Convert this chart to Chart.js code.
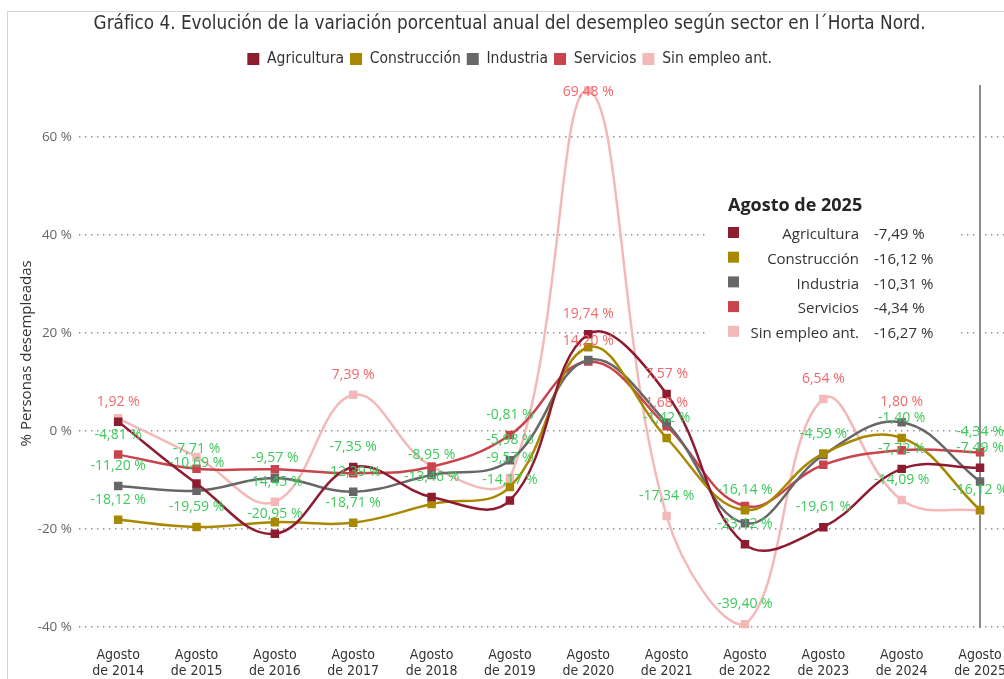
<!DOCTYPE html>
<html lang="es">
<head>
<meta charset="utf-8">
<title>Gráfico 4 - Desempleo l'Horta Nord</title>
<script src="https://cdn.jsdelivr.net/npm/chart.js@4.4.1/dist/chart.umd.min.js"></script>
<style>
    html, body {
        margin: 0;
        padding: 0;
        width: 1004px;
        height: 679px;
        overflow: hidden;
        background: #fff;
    }
    .frame {
        position: absolute;
        left: 7px;
        top: 11px;
        width: 1100px;
        height: 700px;
        border-left: 1px solid #d4d4d4;
        border-top: 1px solid #d4d4d4;
    }
    #chart {
        position: absolute;
        left: 0;
        top: 0;
    }
</style>
</head>
<body>
<div class="frame"></div>
<canvas id="chart" width="1030" height="679"></canvas>

<script>
/* ==========================================
   DATOS
   ========================================== */

const categories = [
    'Agosto de 2014', 'Agosto de 2015', 'Agosto de 2016', 'Agosto de 2017',
    'Agosto de 2018', 'Agosto de 2019', 'Agosto de 2020', 'Agosto de 2021',
    'Agosto de 2022', 'Agosto de 2023', 'Agosto de 2024', 'Agosto de 2025'
];

const agricultura  = [1.92, -10.69, -20.95, -7.35, -13.46, -14.17, 19.74, 7.57, -23.12, -19.61, -7.72, -7.49];
const construccion = [-18.12, -19.59, -18.60, -18.71, -14.90, -11.40, 17.10, -1.42, -16.14, -4.59, -1.40, -16.12];
const industria    = [-11.20, -12.20, -9.57, -12.39, -8.95, -5.98, 14.50, 1.68, -18.80, -4.90, 1.80, -10.31];
const servicios    = [-4.81, -7.71, -7.80, -8.60, -7.30, -0.81, 14.20, 1.00, -15.30, -6.90, -3.90, -4.34];
const sinEmpleo    = [2.60, -5.30, -14.45, 7.39, -7.20, -9.57, 69.48, -17.34, -39.40, 6.54, -14.09, -16.27];

// Etiquetas de datos visibles (1 = se muestra)
const agriculturaLabels  = [1, 1, 1, 1, 1, 1, 1, 1, 1, 1, 1, 1];
const construccionLabels = [1, 1, 0, 1, 0, 0, 0, 1, 1, 1, 1, 1];
const industriaLabels    = [1, 0, 1, 1, 1, 1, 0, 1, 0, 0, 1, 0];
const serviciosLabels    = [1, 1, 0, 0, 0, 1, 1, 0, 0, 0, 0, 1];
const sinEmpleoLabels    = [0, 0, 1, 1, 0, 1, 1, 1, 1, 1, 1, 0];

const yTicks = [-40, -20, 0, 20, 40, 60];

const hoverIndex = categories.length - 1;

// Formato español: -7,49 %
function formatPercent(value) {
    return value.toFixed(2).replace('.', ',') + ' %';
}

function makeSeries(label, data, color, labels) {
    return {
        label: label,
        data: data,
        showLabel: labels,
        borderColor: color,
        backgroundColor: color,
        pointBackgroundColor: color,
        borderWidth: 2.5,
        pointStyle: 'rect',
        pointRadius: 6,
        pointBorderWidth: 0,
        tension: 0.4,
        fill: false
    };
}

/* ==========================================
   PLUGINS
   ========================================== */

// Línea vertical del punto seleccionado
const crosshairPlugin = {
    id: 'crosshair',
    beforeDatasetsDraw(chart) {
        const { ctx, chartArea, scales } = chart;
        const px = scales.x.getPixelForValue(hoverIndex);
        ctx.save();
        ctx.strokeStyle = '#8a8a8a';
        ctx.lineWidth = 2;
        ctx.beginPath();
        ctx.moveTo(px, scales.y.getPixelForValue(70.6));
        ctx.lineTo(px, chartArea.bottom - 2);
        ctx.stroke();
        ctx.restore();
    }
};

// Etiquetas de valor sobre los puntos
const valueLabelPlugin = {
    id: 'valueLabels',
    afterDatasetsDraw(chart) {
        const { ctx, chartArea } = chart;
        ctx.save();
        ctx.font = '14px "Open Sans"';
        ctx.textAlign = 'center';
        ctx.textBaseline = 'middle';
        chart.data.datasets.forEach((ds, di) => {
            const meta = chart.getDatasetMeta(di);
            meta.data.forEach((pt, i) => {
                if (!ds.showLabel[i]) return;
                const v = ds.data[i];
                ctx.fillStyle = v >= 0 ? '#f2676a' : '#3ec95c';
                const ly = Math.max(pt.y - 20, chartArea.top + 15);
                ctx.fillText(formatPercent(v), pt.x, ly);
            });
        });
        ctx.restore();
    }
};

// Cuadro de detalle (Agosto de 2025)
const detailBoxPlugin = {
    id: 'detailBox',
    afterDraw(chart) {
        const { ctx } = chart;
        const left = 707, top = 185, w = 250, h = 167;
        ctx.save();
        ctx.fillStyle = '#fff';
        ctx.fillRect(left, top, w, h);

        ctx.textBaseline = 'middle';
        ctx.textAlign = 'left';
        ctx.fillStyle = '#252423';
        ctx.font = 'bold 18px "Open Sans"';
        ctx.fillText(categories[hoverIndex], left + 21, top + 21);

        ctx.font = '15px "Open Sans"';
        chart.data.datasets.forEach((ds, i) => {
            const cy = top + 50 + i * 24.7;
            ctx.fillStyle = ds.borderColor;
            ctx.fillRect(left + 21, cy - 8, 11, 11);
            ctx.fillStyle = '#333';
            ctx.textAlign = 'right';
            ctx.fillText(ds.label, left + 152, cy);
            ctx.textAlign = 'left';
            ctx.fillText(formatPercent(ds.data[hoverIndex]), left + 167, cy);
        });
        ctx.restore();
    }
};

/* ==========================================
   GRÁFICO
   ========================================== */

function initializeChart() {
    const ctx = document.getElementById('chart').getContext('2d');
    new Chart(ctx, {
        type: 'line',
        data: {
            labels: categories.map(c => c.replace('Agosto ', 'Agosto|').split('|')),
            datasets: [
                makeSeries('Agricultura', agricultura, '#8e1c31', agriculturaLabels),
                makeSeries('Construcción', construccion, '#a88800', construccionLabels),
                makeSeries('Industria', industria, '#676767', industriaLabels),
                makeSeries('Servicios', servicios, '#c9434c', serviciosLabels),
                makeSeries('Sin empleo ant.', sinEmpleo, '#f3b9b9', sinEmpleoLabels)
            ]
        },
        options: {
            responsive: false,
            animation: false,
            events: [],
            layout: {
                padding: { left: 0, right: 10.8, top: 0, bottom: 0 }
            },
            plugins: {
                title: {
                    display: true,
                    text: 'Gráfico 4. Evolución de la variación porcentual anual del desempleo según sector en l´Horta Nord.',
                    color: '#333',
                    font: { family: 'DejaVu Sans Condensed', size: 18.75, weight: 'normal' },
                    padding: { top: 12.75, bottom: 10 }
                },
                legend: {
                    display: true,
                    labels: {
                        boxWidth: 12,
                        boxHeight: 12,
                        padding: 6,
                        color: '#333',
                        font: { family: 'DejaVu Sans Condensed', size: 15.5 },
                        generateLabels(chart) {
                            return Chart.defaults.plugins.legend.labels.generateLabels(chart)
                                .map(item => Object.assign(item, { lineWidth: 0 }));
                        }
                    }
                },
                tooltip: { enabled: false }
            },
            scales: {
                x: {
                    offset: true,
                    afterFit(scale) { scale.height = 49; },
                    grid: { display: false, drawTicks: false },
                    border: { display: false },
                    ticks: {
                        color: '#333',
                        padding: 16.6,
                        maxRotation: 0,
                        autoSkip: false,
                        font: { family: 'DejaVu Sans Condensed', size: 14 }
                    }
                },
                y: {
                    min: -40.6,
                    max: 72.3,
                    afterFit(scale) { scale.width = 79; },
                    afterBuildTicks(scale) {
                        scale.ticks = yTicks.map(v => ({ value: v }));
                    },
                    ticks: {
                        padding: 7,
                        color: '#666',
                        font: { family: 'Open Sans', size: 13.5 },
                        callback: v => v + ' %'
                    },
                    grid: { color: '#8c8c8c', lineWidth: 1.4, drawTicks: false },
                    border: { display: false, dash: [1.4, 4.6] },
                    title: {
                        display: true,
                        text: '% Personas desempleadas',
                        color: '#333',
                        font: { family: 'Open Sans', size: 15 },
                        padding: { top: 18, bottom: 0 }
                    }
                }
            }
        },
        plugins: [crosshairPlugin, valueLabelPlugin, detailBoxPlugin]
    });
}

document.addEventListener('DOMContentLoaded', initializeChart);
</script>
</body>
</html>
